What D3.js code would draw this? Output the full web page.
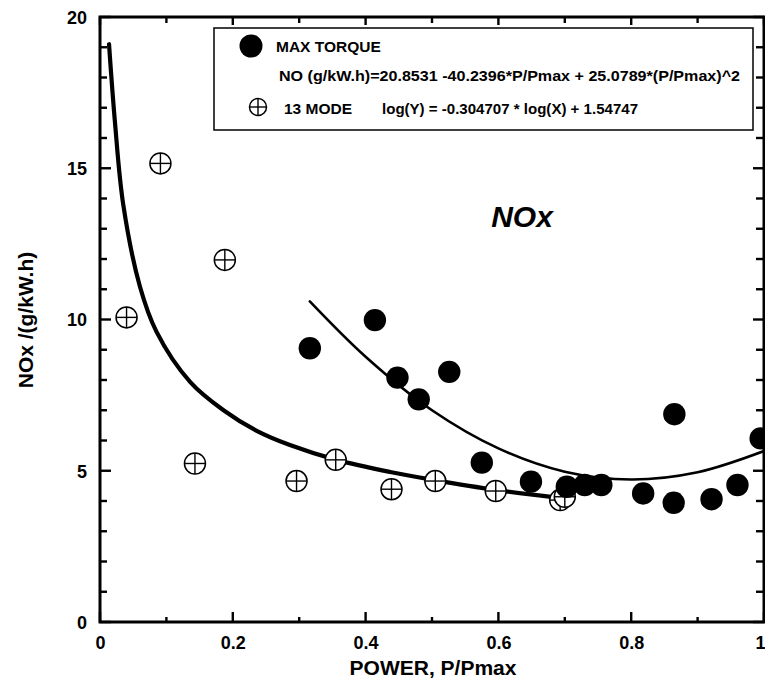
<!DOCTYPE html>
<html>
<head>
<meta charset="utf-8">
<script src="https://cdn.jsdelivr.net/npm/d3@7"></script>
<style>
  html, body { margin: 0; padding: 0; background: #fff; }
  svg { display: block; font-family: "Liberation Sans", Arial, Helvetica, sans-serif; }
</style>
</head>
<body>
<svg id="chart" width="765" height="679"></svg>
<script>
// ---- data ----
const maxTorqueP   = [0.316, 0.414, 0.448, 0.480, 0.526, 0.575, 0.649, 0.703, 0.730, 0.755, 0.818, 0.864, 0.865, 0.921, 0.960, 0.995];
const maxTorqueNOx = [9.05, 9.98, 8.08, 7.36, 8.27, 5.27, 4.64, 4.47, 4.53, 4.53, 4.25, 3.94, 6.87, 4.06, 4.53, 6.07];

const mode13P   = [0.040, 0.091, 0.143, 0.188, 0.296, 0.355, 0.439, 0.505, 0.596, 0.693, 0.700];
const mode13NOx = [10.07, 15.16, 5.24, 11.97, 4.66, 5.36, 4.39, 4.66, 4.33, 4.03, 4.14];

// fitted curves, sampled along the drawn lines
const quadFitP   = [0.316, 0.40, 0.50, 0.60, 0.70, 0.80, 0.90, 1.00];
const quadFitNOx = [10.60, 8.77, 7.00, 5.74, 4.97, 4.71, 4.95, 5.65];

const powFitP   = [0.0136, 0.0226, 0.035, 0.060, 0.085, 0.136, 0.186, 0.236, 0.286, 0.356, 0.437, 0.502, 0.595, 0.698];
const powFitNOx = [19.1, 16.5, 13.8, 11.1, 9.6, 7.93, 7.0, 6.32, 5.85, 5.36, 4.96, 4.70, 4.37, 4.09];

const xTicks = [0, 0.2, 0.4, 0.6, 0.8, 1];
const yTicks = [0, 5, 10, 15, 20];

const legendLabels = ["MAX TORQUE", "13 MODE"];
const legendFormulas = [
  "NO (g/kW.h)=20.8531 -40.2396*P/Pmax + 25.0789*(P/Pmax)^2",
  "log(Y) = -0.304707 * log(X) + 1.54747"
];
const xTitle = "POWER, P/Pmax";
const yTitle = "NOx /(g/kW.h)";
const chartTag = "NOx";

// ---- layout ----
const svg = d3.select("#chart");
const L = 100, R = 764, T = 17, B = 622;
const x = d3.scaleLinear().domain([0, 1]).range([L, R]);
const y = d3.scaleLinear().domain([0, 20]).range([B, T]);

svg.append("defs").append("clipPath").attr("id", "plotClip")
  .append("rect").attr("x", L).attr("y", T).attr("width", R - L).attr("height", B - T);

const plot = svg.append("g").attr("clip-path", "url(#plotClip)");

// curves
const line = d3.line().x(d => x(d[0])).y(d => y(d[1]));
plot.append("path")
  .datum(powFitP.map((p, i) => [p, powFitNOx[i]]))
  .attr("d", line.curve(d3.curveCatmullRom.alpha(0.5)))
  .attr("fill", "none").attr("stroke", "#000").attr("stroke-width", 4.2).attr("stroke-linecap", "round");
plot.append("path")
  .datum(quadFitP.map((p, i) => [p, quadFitNOx[i]]))
  .attr("d", line.curve(d3.curveCatmullRom))
  .attr("fill", "none").attr("stroke", "#000").attr("stroke-width", 2.6).attr("stroke-linecap", "round");

// open crossed circles
function crossCircle(g, cx, cy, r) {
  g.append("circle").attr("cx", cx).attr("cy", cy).attr("r", r)
    .attr("fill", "#fff").attr("stroke", "#000").attr("stroke-width", 1.5);
  g.append("line").attr("x1", cx - r).attr("x2", cx + r).attr("y1", cy).attr("y2", cy)
    .attr("stroke", "#000").attr("stroke-width", 1.4);
  g.append("line").attr("x1", cx).attr("x2", cx).attr("y1", cy - r).attr("y2", cy + r)
    .attr("stroke", "#000").attr("stroke-width", 1.4);
}
mode13P.forEach((p, i) => crossCircle(plot, x(p), y(mode13NOx[i]), 10.5));

// filled circles
plot.selectAll("circle.mt")
  .data(maxTorqueP.map((p, i) => [p, maxTorqueNOx[i]]))
  .join("circle").attr("class", "mt")
  .attr("cx", d => x(d[0])).attr("cy", d => y(d[1])).attr("r", 11.2)
  .attr("fill", "#000");

// ---- axes ----
const fmtX = d => d === 0 ? "0" : d === 1 ? "1" : d3.format(".1f")(d);
const bottom = svg.append("g").attr("transform", `translate(0,${B})`)
  .call(d3.axisBottom(x).tickValues(xTicks).tickFormat(fmtX).tickSize(0).tickPadding(14));
const left = svg.append("g").attr("transform", `translate(${L},0)`)
  .call(d3.axisLeft(y).tickValues(yTicks).tickSize(0).tickPadding(13));
[bottom, left].forEach(g => {
  g.select(".domain").remove();
  g.selectAll("text").attr("font-size", 18).attr("font-weight", "bold").attr("fill", "#000")
    .attr("font-family", "Liberation Sans, Arial, sans-serif");
});
left.selectAll("text").attr("dy", "0.35em");
// keep the last label inside the page
bottom.selectAll(".tick").filter(d => d === 1).select("text").attr("text-anchor", "end").attr("x", 1);

// inward ticks
const minorX = d3.range(0, 11).map(i => i / 10);
const minorY = d3.range(0, 21);
const tk = svg.append("g").attr("stroke", "#000");
minorX.forEach(v => {
  const major = Math.round(v * 10) % 2 === 0;
  tk.append("line").attr("x1", x(v)).attr("x2", x(v)).attr("y1", B).attr("y2", B - (major ? 10 : 5)).attr("stroke-width", 2.4);
  tk.append("line").attr("x1", x(v)).attr("x2", x(v)).attr("y1", T).attr("y2", T + (major ? 8 : 6)).attr("stroke-width", 2.4);
});
minorY.forEach(v => {
  const major = v % 5 === 0;
  tk.append("line").attr("x1", L).attr("x2", L + (major ? 11 : 7)).attr("y1", y(v)).attr("y2", y(v)).attr("stroke-width", 2.4);
  tk.append("line").attr("x1", R).attr("x2", R - (major ? 11 : 8)).attr("y1", y(v)).attr("y2", y(v)).attr("stroke-width", 2.4);
});

// frame
svg.append("rect").attr("x", L).attr("y", T).attr("width", R - L).attr("height", B - T)
  .attr("fill", "none").attr("stroke", "#000").attr("stroke-width", 3);

// titles
svg.append("text").attr("x", 433).attr("y", 675).attr("text-anchor", "middle")
  .attr("font-size", 21).attr("font-weight", "bold").text(xTitle);
svg.append("text").attr("transform", "translate(33,320) rotate(-90)").attr("text-anchor", "middle")
  .attr("font-size", 21).attr("font-weight", "bold").text(yTitle);
svg.append("text").attr("x", 522).attr("y", 227).attr("text-anchor", "middle")
  .attr("font-size", 30).attr("font-weight", "bold").attr("font-style", "italic").text(chartTag);

// ---- legend ----
const lg = svg.append("g");
lg.append("rect").attr("x", 214).attr("y", 28).attr("width", 539).attr("height", 102)
  .attr("fill", "#fff").attr("stroke", "#000").attr("stroke-width", 1.5);
lg.append("circle").attr("cx", 251).attr("cy", 46).attr("r", 11.5).attr("fill", "#000");
lg.append("text").attr("x", 276).attr("y", 52).attr("font-size", 15.5).attr("font-weight", "bold").text(legendLabels[0]);
lg.append("text").attr("x", 279).attr("y", 81).attr("font-size", 15.5).attr("font-weight", "bold")
  .attr("textLength", 461).attr("lengthAdjust", "spacingAndGlyphs").text(legendFormulas[0]);
crossCircle(lg, 258, 107, 8.5);
lg.append("text").attr("x", 284).attr("y", 114).attr("font-size", 15.5).attr("font-weight", "bold").text(legendLabels[1]);
lg.append("text").attr("x", 382).attr("y", 114).attr("font-size", 15.5).attr("font-weight", "bold")
  .attr("textLength", 256).attr("lengthAdjust", "spacingAndGlyphs").text(legendFormulas[1]);
</script>
</body>
</html>
